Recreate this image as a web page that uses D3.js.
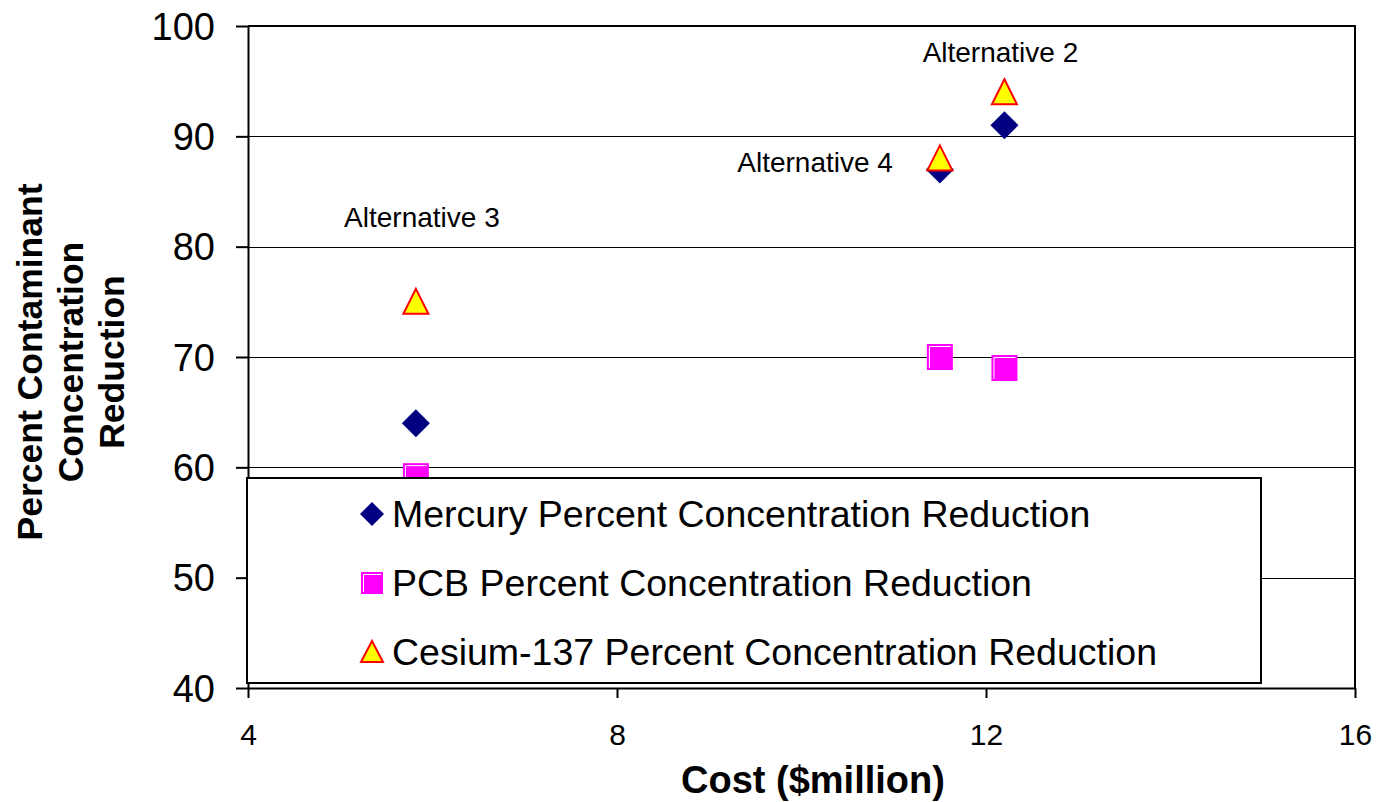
<!DOCTYPE html>
<html>
<head>
    <title>Cost vs Percent Concentration Reduction</title>
    <script src="https://cdn.jsdelivr.net/npm/d3@7"></script>
    <style>
        body { margin: 0; background: #fff; }
        svg text { font-family: "Liberation Sans", Arial, sans-serif; fill: #000; }
    </style>
</head>
<body>
<svg id="chart" width="1380" height="802"></svg>

<script>
    // values
    const alternatives = ["Alternative 3", "Alternative 4", "Alternative 2"];
    const costs = [5.82, 11.5, 12.2];
    const mercury = [64, 87, 91];
    const pcb = [59.2, 70, 69];
    const cesium = [75, 88, 94];
    const seriesNames = [
        "Mercury Percent Concentration Reduction",
        "PCB Percent Concentration Reduction",
        "Cesium-137 Percent Concentration Reduction"
    ];
    const xTicks = [4, 8, 12, 16];
    const yTicks = [40, 50, 60, 70, 80, 90, 100];

    const svg = d3.select('#chart');

    const x = d3.scaleLinear().domain([4, 16]).range([248, 1355]);
    const y = d3.scaleLinear().domain([40, 100]).range([688, 26]);

    // marker shapes
    function diamond(r) {
        return `M0,${-r}L${r},0L0,${r}L${-r},0Z`;
    }
    function triangle(w, h) {
        return `M0,${-h / 2}L${w / 2},${h / 2}L${-w / 2},${h / 2}Z`;
    }

    function drawMarker(g, kind, cx, cy, big) {
        if (kind === 0) {
            g.append("path")
                .attr("d", diamond(big ? 14 : 12))
                .attr("transform", `translate(${cx},${cy})`)
                .attr("fill", "#000080");
        } else if (kind === 1) {
            const s = big ? 26 : 22;
            const x0 = cx - s / 2, y0 = cy - s / 2;
            g.append("rect")
                .attr("x", x0).attr("y", y0)
                .attr("width", s).attr("height", s)
                .attr("fill", "#ff00ff");
            g.append("path")
                .attr("d", `M${x0 + 2.5},${y0 + s - 2}V${y0 + 2.5}H${x0 + s - 2}`)
                .attr("fill", "none")
                .attr("stroke", "#fff")
                .attr("stroke-width", 1);
        } else {
            g.append("path")
                .attr("d", big ? triangle(25, 25) : triangle(22, 21))
                .attr("transform", `translate(${cx},${cy - 0.5})`)
                .attr("fill", "#ffff00")
                .attr("stroke", "#ff0000")
                .attr("stroke-width", 2)
                .attr("stroke-linejoin", "miter");
        }
    }

    // gridlines
    svg.append("g")
        .selectAll("line")
        .data(yTicks.filter(v => v > 40 && v < 100))
        .join("line")
        .attr("x1", x(4)).attr("x2", x(16))
        .attr("y1", d => Math.round(y(d)) + 0.5)
        .attr("y2", d => Math.round(y(d)) + 0.5)
        .attr("stroke", "#000")
        .attr("stroke-width", 1);

    // top and right border of plot area
    svg.append("path")
        .attr("d", `M${x(4)},${y(100)}H${x(16)}V${y(40)}`)
        .attr("fill", "none")
        .attr("stroke", "#000")
        .attr("stroke-width", 2);

    // axes
    const yAxis = svg.append("g")
        .attr("transform", `translate(${x(4)},0)`)
        .call(d3.axisLeft(y).tickValues(yTicks).tickSize(12).tickSizeOuter(0).tickPadding(21));
    yAxis.selectAll("text").style("font-size", "38px").attr("dy", "0.35em");

    const xAxis = svg.append("g")
        .attr("transform", `translate(0,${y(40)})`)
        .call(d3.axisBottom(x).tickValues(xTicks).tickSize(10).tickSizeOuter(0).tickPadding(26));
    xAxis.selectAll("text").style("font-size", "30px");

    svg.selectAll(".domain, .tick line").attr("stroke", "#000").attr("stroke-width", 2);

    // points
    const pts = svg.append("g");
    [mercury, pcb, cesium].forEach((vals, k) => {
        vals.forEach((v, i) => drawMarker(pts, k, x(costs[i]), y(v), true));
    });

    // point labels
    const labelOffset = [[6, -75, "middle"], [-47, 14, "end"], [-4, -30, "middle"]];
    svg.append("g")
        .selectAll("text")
        .data(alternatives)
        .join("text")
        .attr("x", (d, i) => x(costs[i]) + labelOffset[i][0])
        .attr("y", (d, i) => y(cesium[i]) + labelOffset[i][1])
        .attr("text-anchor", (d, i) => labelOffset[i][2])
        .style("font-size", "28px")
        .text(d => d);

    // legend
    const legend = svg.append("g");
    legend.append("rect")
        .attr("x", 247).attr("y", 478)
        .attr("width", 1014).attr("height", 205)
        .attr("fill", "#fff")
        .attr("stroke", "#000")
        .attr("stroke-width", 2);

    seriesNames.forEach((name, k) => {
        const cy = 514 + k * 69;
        drawMarker(legend, k, 372, cy, false);
        legend.append("text")
            .attr("x", 392)
            .attr("y", cy + 13)
            .style("font-size", "37.5px")
            .text(name);
    });

    // axis titles
    svg.append("text")
        .attr("x", 813)
        .attr("y", 793)
        .attr("text-anchor", "middle")
        .style("font-size", "38px")
        .style("font-weight", "bold")
        .text("Cost ($million)");

    const yTitle = svg.append("g").attr("transform", "translate(0,362) rotate(-90)");
    ["Percent Contaminant", "Concentration", "Reduction"].forEach((line, i) => {
        yTitle.append("text")
            .attr("x", 0)
            .attr("y", 42 + i * 41)
            .attr("text-anchor", "middle")
            .style("font-size", "35.5px")
            .style("font-weight", "bold")
            .text(line);
    });
</script>
</body>
</html>
